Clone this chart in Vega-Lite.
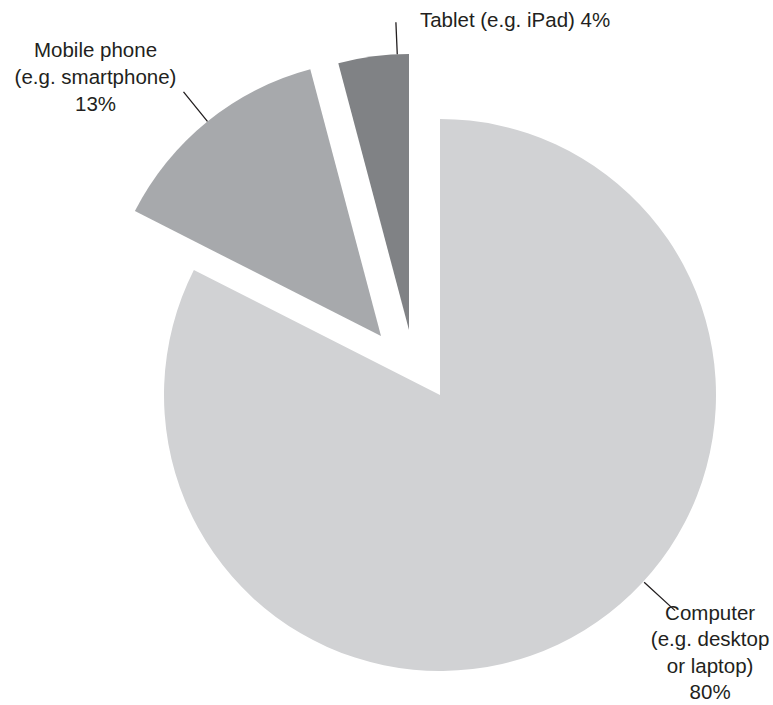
{
  "$schema": "https://vega.github.io/schema/vega-lite/v6.json",
  "width": 666,
  "height": 620,
  "autosize": {"type": "none"},
  "padding": {"left": 107, "top": 85, "right": 0, "bottom": 0},
  "background": "white",
  "config": {
    "view": {"stroke": null},
    "text": {"font": "Liberation Sans", "fontSize": 20.5, "color": "#231f20", "lineHeight": 27}
  },
  "data": {
    "values": [
      {"category": "Computer", "value": 80, "label": "Computer\n(e.g. desktop\nor laptop)\n80%"},
      {"category": "Mobile phone", "value": 13, "label": "Mobile phone\n(e.g. smartphone)\n13%"},
      {"category": "Tablet", "value": 4, "label": "Tablet (e.g. iPad) 4%"}
    ]
  },
  "transform": [
    {"stack": "value", "groupby": [], "sort": [{"field": "value", "order": "descending"}], "as": ["v0", "v1"]}
  ],
  "layer": [
    {
      "transform": [{"filter": "datum.category === 'Computer'"}],
      "mark": {"type": "arc", "radius": 276},
      "encoding": {
        "theta": {"field": "v0", "type": "quantitative", "stack": null, "scale": {"domain": [0, 97]}},
        "theta2": {"field": "v1"},
        "color": {"field": "category", "type": "nominal", "legend": null,
          "scale": {"domain": ["Computer", "Mobile phone", "Tablet"], "range": ["#d1d2d4", "#a7a9ac", "#808285"]}}
      }
    },
    {
      "transform": [{"filter": "datum.category === 'Mobile phone'"}],
      "mark": {"type": "arc", "radius": 276, "xOffset": -59, "yOffset": -59},
      "encoding": {
        "theta": {"field": "v0", "type": "quantitative", "stack": null, "scale": {"domain": [0, 97]}},
        "theta2": {"field": "v1"},
        "color": {"field": "category", "type": "nominal", "legend": null}
      }
    },
    {
      "transform": [{"filter": "datum.category === 'Tablet'"}],
      "mark": {"type": "arc", "radius": 276, "xOffset": -31, "yOffset": -65},
      "encoding": {
        "theta": {"field": "v0", "type": "quantitative", "stack": null, "scale": {"domain": [0, 97]}},
        "theta2": {"field": "v1"},
        "color": {"field": "category", "type": "nominal", "legend": null}
      }
    },
    {
      "transform": [
        {"filter": "datum.category === 'Computer'"},
        {"fold": ["v0", "v1"], "as": ["edge", "pos"]},
        {"aggregate": [{"op": "mean", "field": "pos", "as": "mid"}], "groupby": ["category", "label"]}
      ],
      "mark": {"type": "arc", "radius": 319, "radius2": 277, "thetaOffset": -0.278, "theta2Offset": -0.278, "fillOpacity": 0, "stroke": "#231f20", "strokeWidth": 1.3},
      "encoding": {
        "theta": {"field": "mid", "type": "quantitative", "stack": null, "scale": {"domain": [0, 97]}},
        "theta2": {"field": "mid"}
      }
    },
    {
      "transform": [
        {"filter": "datum.category === 'Mobile phone'"},
        {"fold": ["v0", "v1"], "as": ["edge", "pos"]},
        {"aggregate": [{"op": "mean", "field": "pos", "as": "mid"}], "groupby": ["category", "label"]}
      ],
      "mark": {"type": "arc", "radius": 314, "radius2": 276, "xOffset": -59, "yOffset": -59, "fillOpacity": 0, "stroke": "#231f20", "strokeWidth": 1.3},
      "encoding": {
        "theta": {"field": "mid", "type": "quantitative", "stack": null, "scale": {"domain": [0, 97]}},
        "theta2": {"field": "mid"}
      }
    },
    {
      "transform": [
        {"filter": "datum.category === 'Tablet'"},
        {"fold": ["v0", "v1"], "as": ["edge", "pos"]},
        {"aggregate": [{"op": "mean", "field": "pos", "as": "mid"}], "groupby": ["category", "label"]}
      ],
      "mark": {"type": "arc", "radius": 308, "radius2": 276, "xOffset": -31, "yOffset": -65, "thetaOffset": 0.087, "theta2Offset": 0.087, "fillOpacity": 0, "stroke": "#231f20", "strokeWidth": 1.3},
      "encoding": {
        "theta": {"field": "mid", "type": "quantitative", "stack": null, "scale": {"domain": [0, 97]}},
        "theta2": {"field": "mid"}
      }
    },
    {
      "transform": [
        {"filter": "datum.category === 'Computer'"},
        {"fold": ["v0", "v1"], "as": ["edge", "pos"]},
        {"aggregate": [{"op": "mean", "field": "pos", "as": "mid"}], "groupby": ["category", "label"]}
      ],
      "mark": {"type": "text", "radius": 319, "thetaOffset": -0.278, "align": "center", "baseline": "alphabetic", "dx": 35, "dy": 9, "lineHeight": 26.5, "lineBreak": "\n"},
      "encoding": {
        "theta": {"field": "mid", "type": "quantitative", "stack": null, "scale": {"domain": [0, 97]}},
        "text": {"field": "label"}
      }
    },
    {
      "transform": [
        {"filter": "datum.category === 'Mobile phone'"},
        {"fold": ["v0", "v1"], "as": ["edge", "pos"]},
        {"aggregate": [{"op": "mean", "field": "pos", "as": "mid"}], "groupby": ["category", "label"]}
      ],
      "mark": {"type": "text", "radius": 314, "xOffset": -59, "yOffset": -59, "align": "center", "baseline": "alphabetic", "dx": -88, "dy": -35, "lineBreak": "\n"},
      "encoding": {
        "theta": {"field": "mid", "type": "quantitative", "stack": null, "scale": {"domain": [0, 97]}},
        "text": {"field": "label"}
      }
    },
    {
      "transform": [
        {"filter": "datum.category === 'Tablet'"},
        {"fold": ["v0", "v1"], "as": ["edge", "pos"]},
        {"aggregate": [{"op": "mean", "field": "pos", "as": "mid"}], "groupby": ["category", "label"]}
      ],
      "mark": {"type": "text", "radius": 308, "xOffset": -31, "yOffset": -65, "thetaOffset": 0.087, "align": "left", "baseline": "alphabetic", "dx": 24, "dy": 5, "lineBreak": "\n"},
      "encoding": {
        "theta": {"field": "mid", "type": "quantitative", "stack": null, "scale": {"domain": [0, 97]}},
        "text": {"field": "label"}
      }
    }
  ]
}
